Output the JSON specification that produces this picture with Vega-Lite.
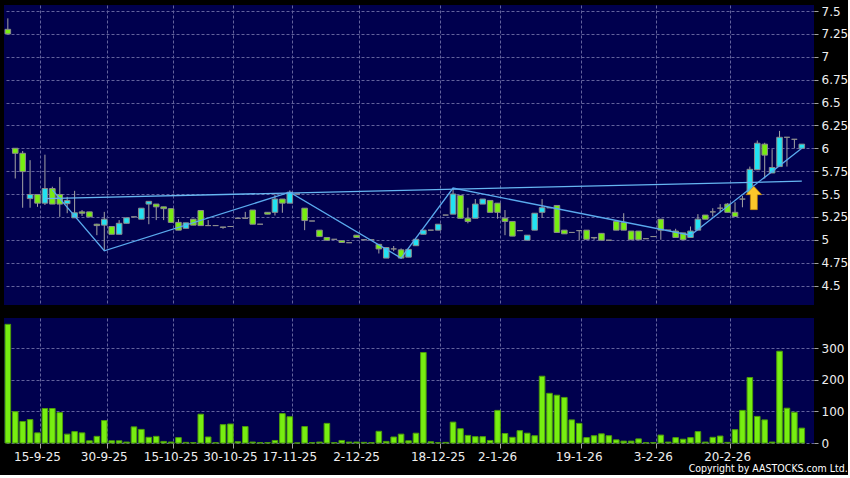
{
  "$schema": "https://vega.github.io/schema/vega-lite/v6.json",
  "background": "#000000",
  "padding": {"left": 4, "top": 5, "right": 0, "bottom": 0},
  "spacing": 13,
  "title": {"text": "Copyright by AASTOCKS.com Ltd.", "orient": "bottom", "anchor": "end", "frame": "bounds", "font": "DejaVu Sans Condensed, DejaVu Sans", "fontSize": 10.5, "fontWeight": "normal", "color": "#ffffff", "offset": 2},
  "data": {"values": [
    {"d":"9-9-25","o":7.3,"h":7.42,"l":7.25,"c":7.25,"v":375},
    {"d":"10-9-25","o":6.0,"h":6.0,"l":5.67,"c":5.945,"v":99},
    {"d":"11-9-25","o":5.945,"h":5.97,"l":5.35,"c":5.745,"v":68},
    {"d":"12-9-25","o":5.45,"h":5.87,"l":5.35,"c":5.495,"v":74},
    {"d":"15-9-25","o":5.495,"h":5.495,"l":5.36,"c":5.4,"v":32},
    {"d":"16-9-25","o":5.4,"h":5.93,"l":5.38,"c":5.56,"v":109},
    {"d":"17-9-25","o":5.56,"h":5.58,"l":5.39,"c":5.39,"v":109},
    {"d":"18-9-25","o":5.495,"h":5.685,"l":5.25,"c":5.39,"v":96},
    {"d":"19-9-25","o":5.395,"h":5.47,"l":5.29,"c":5.43,"v":28},
    {"d":"22-9-25","o":5.24,"h":5.535,"l":5.24,"c":5.295,"v":36},
    {"d":"25-9-25","o":5.305,"h":5.325,"l":5.26,"c":5.29,"v":32},
    {"d":"26-9-25","o":5.305,"h":5.305,"l":5.25,"c":5.25,"v":7},
    {"d":"29-9-25","o":5.17,"h":5.175,"l":5.05,"c":5.155,"v":21},
    {"d":"30-9-25","o":5.16,"h":5.305,"l":4.88,"c":5.225,"v":71},
    {"d":"2-10-25","o":5.145,"h":5.145,"l":5.06,"c":5.06,"v":7},
    {"d":"3-10-25","o":5.06,"h":5.215,"l":5.06,"c":5.18,"v":7},
    {"d":"6-10-25","o":5.18,"h":5.24,"l":5.18,"c":5.24,"v":3},
    {"d":"8-10-25","o":5.25,"h":5.25,"l":5.25,"c":5.25,"v":51},
    {"d":"9-10-25","o":5.225,"h":5.345,"l":5.225,"c":5.345,"v":43},
    {"d":"10-10-25","o":5.39,"h":5.42,"l":5.17,"c":5.42,"v":18},
    {"d":"13-10-25","o":5.39,"h":5.39,"l":5.215,"c":5.36,"v":21},
    {"d":"14-10-25","o":5.36,"h":5.36,"l":5.215,"c":5.34,"v":5},
    {"d":"15-10-25","o":5.34,"h":5.34,"l":5.19,"c":5.19,"v":3},
    {"d":"16-10-25","o":5.19,"h":5.225,"l":5.105,"c":5.105,"v":17},
    {"d":"17-10-25","o":5.125,"h":5.185,"l":5.125,"c":5.185,"v":2},
    {"d":"20-10-25","o":5.225,"h":5.225,"l":5.16,"c":5.16,"v":1},
    {"d":"21-10-25","o":5.32,"h":5.32,"l":5.155,"c":5.155,"v":91},
    {"d":"23-10-25","o":5.155,"h":5.215,"l":5.155,"c":5.155,"v":19},
    {"d":"24-10-25","o":5.155,"h":5.155,"l":5.155,"c":5.155,"v":1},
    {"d":"28-10-25","o":5.14,"h":5.14,"l":5.12,"c":5.135,"v":58},
    {"d":"30-10-25","o":5.145,"h":5.145,"l":5.145,"c":5.145,"v":60},
    {"d":"31-10-25","o":5.235,"h":5.235,"l":5.235,"c":5.235,"v":4},
    {"d":"3-11-25","o":5.235,"h":5.305,"l":5.235,"c":5.235,"v":52},
    {"d":"5-11-25","o":5.325,"h":5.325,"l":5.17,"c":5.17,"v":3},
    {"d":"7-11-25","o":5.17,"h":5.17,"l":5.17,"c":5.17,"v":1},
    {"d":"10-11-25","o":5.3,"h":5.3,"l":5.28,"c":5.28,"v":1},
    {"d":"12-11-25","o":5.3,"h":5.495,"l":5.265,"c":5.445,"v":8},
    {"d":"14-11-25","o":5.445,"h":5.445,"l":5.295,"c":5.4,"v":93},
    {"d":"17-11-25","o":5.4,"h":5.54,"l":5.4,"c":5.52,"v":83},
    {"d":"18-11-25","o":5.5,"h":5.5,"l":5.5,"c":5.5,"v":0},
    {"d":"19-11-25","o":5.345,"h":5.345,"l":5.105,"c":5.21,"v":52},
    {"d":"20-11-25","o":5.205,"h":5.205,"l":5.205,"c":5.205,"v":1},
    {"d":"21-11-25","o":5.105,"h":5.105,"l":5.035,"c":5.035,"v":3},
    {"d":"24-11-25","o":5.025,"h":5.025,"l":4.995,"c":4.995,"v":62},
    {"d":"26-11-25","o":5.005,"h":5.005,"l":5.005,"c":5.005,"v":1},
    {"d":"27-11-25","o":4.99,"h":4.99,"l":4.97,"c":4.97,"v":8},
    {"d":"28-11-25","o":4.968,"h":4.968,"l":4.968,"c":4.968,"v":3},
    {"d":"2-12-25","o":5.05,"h":5.05,"l":5.025,"c":5.025,"v":3},
    {"d":"3-12-25","o":5.0,"h":5.0,"l":5.0,"c":5.0,"v":2},
    {"d":"4-12-25","o":5.0,"h":5.0,"l":5.0,"c":5.0,"v":1},
    {"d":"5-12-25","o":4.95,"h":4.95,"l":4.85,"c":4.9,"v":37},
    {"d":"8-12-25","o":4.8,"h":4.92,"l":4.8,"c":4.915,"v":5},
    {"d":"9-12-25","o":4.9,"h":4.932,"l":4.875,"c":4.9,"v":19},
    {"d":"10-12-25","o":4.89,"h":4.905,"l":4.8,"c":4.8,"v":28},
    {"d":"11-12-25","o":4.81,"h":4.9,"l":4.81,"c":4.895,"v":7},
    {"d":"12-12-25","o":4.935,"h":5.005,"l":4.935,"c":5.005,"v":31},
    {"d":"15-12-25","o":5.06,"h":5.105,"l":5.06,"c":5.105,"v":286},
    {"d":"17-12-25","o":5.105,"h":5.105,"l":5.105,"c":5.105,"v":4},
    {"d":"18-12-25","o":5.105,"h":5.17,"l":5.105,"c":5.17,"v":1},
    {"d":"19-12-25","o":5.27,"h":5.27,"l":5.27,"c":5.27,"v":2},
    {"d":"22-12-25","o":5.28,"h":5.565,"l":5.28,"c":5.5,"v":66},
    {"d":"23-12-25","o":5.485,"h":5.485,"l":5.235,"c":5.235,"v":45},
    {"d":"24-12-25","o":5.235,"h":5.35,"l":5.18,"c":5.2,"v":24},
    {"d":"29-12-25","o":5.235,"h":5.445,"l":5.235,"c":5.39,"v":20},
    {"d":"30-12-25","o":5.39,"h":5.445,"l":5.39,"c":5.445,"v":20},
    {"d":"31-12-25","o":5.43,"h":5.43,"l":5.3,"c":5.3,"v":8},
    {"d":"2-1-26","o":5.4,"h":5.4,"l":5.23,"c":5.3,"v":103},
    {"d":"5-1-26","o":5.235,"h":5.325,"l":5.05,"c":5.2,"v":30},
    {"d":"6-1-26","o":5.2,"h":5.2,"l":5.04,"c":5.04,"v":18},
    {"d":"7-1-26","o":5.1,"h":5.1,"l":5.1,"c":5.1,"v":39},
    {"d":"8-1-26","o":4.995,"h":5.05,"l":4.995,"c":5.05,"v":31},
    {"d":"9-1-26","o":5.105,"h":5.29,"l":5.105,"c":5.29,"v":23},
    {"d":"12-1-26","o":5.3,"h":5.445,"l":5.24,"c":5.35,"v":211},
    {"d":"13-1-26","o":5.35,"h":5.35,"l":5.35,"c":5.35,"v":157},
    {"d":"14-1-26","o":5.375,"h":5.375,"l":5.08,"c":5.08,"v":151},
    {"d":"15-1-26","o":5.105,"h":5.105,"l":5.065,"c":5.065,"v":144},
    {"d":"16-1-26","o":5.08,"h":5.08,"l":5.08,"c":5.08,"v":73},
    {"d":"19-1-26","o":5.1,"h":5.1,"l":4.995,"c":5.1,"v":62},
    {"d":"20-1-26","o":5.105,"h":5.105,"l":5.005,"c":5.005,"v":17},
    {"d":"21-1-26","o":5.025,"h":5.025,"l":5.0,"c":5.02,"v":23},
    {"d":"22-1-26","o":5.07,"h":5.07,"l":4.995,"c":4.995,"v":29},
    {"d":"23-1-26","o":4.995,"h":4.995,"l":4.995,"c":4.995,"v":23},
    {"d":"26-1-26","o":5.2,"h":5.2,"l":5.105,"c":5.105,"v":10},
    {"d":"27-1-26","o":5.19,"h":5.29,"l":5.105,"c":5.105,"v":6},
    {"d":"28-1-26","o":5.095,"h":5.095,"l":5.0,"c":5.0,"v":6},
    {"d":"29-1-26","o":5.095,"h":5.095,"l":5.0,"c":5.0,"v":13},
    {"d":"30-1-26","o":5.012,"h":5.012,"l":5.012,"c":5.012,"v":1},
    {"d":"3-2-26","o":5.035,"h":5.035,"l":5.035,"c":5.035,"v":1},
    {"d":"4-2-26","o":5.225,"h":5.225,"l":5.0,"c":5.105,"v":25},
    {"d":"5-2-26","o":5.105,"h":5.105,"l":5.105,"c":5.105,"v":3},
    {"d":"6-2-26","o":5.095,"h":5.12,"l":5.025,"c":5.025,"v":17},
    {"d":"9-2-26","o":5.075,"h":5.075,"l":5.0,"c":5.0,"v":12},
    {"d":"10-2-26","o":5.025,"h":5.145,"l":5.025,"c":5.095,"v":17},
    {"d":"11-2-26","o":5.105,"h":5.28,"l":5.105,"c":5.225,"v":36},
    {"d":"12-2-26","o":5.27,"h":5.27,"l":5.225,"c":5.225,"v":3},
    {"d":"13-2-26","o":5.305,"h":5.345,"l":5.255,"c":5.305,"v":18},
    {"d":"16-2-26","o":5.345,"h":5.39,"l":5.3,"c":5.345,"v":22},
    {"d":"20-2-26","o":5.39,"h":5.4,"l":5.3,"c":5.3,"v":2},
    {"d":"23-2-26","o":5.3,"h":5.41,"l":5.255,"c":5.255,"v":42},
    {"d":"24-2-26","o":5.445,"h":5.48,"l":5.355,"c":5.445,"v":103},
    {"d":"25-2-26","o":5.515,"h":5.8,"l":5.515,"c":5.77,"v":207},
    {"d":"26-2-26","o":5.765,"h":6.085,"l":5.765,"c":6.055,"v":84},
    {"d":"27-2-26","o":6.045,"h":6.06,"l":5.67,"c":5.925,"v":73},
    {"d":"2-3-26","o":5.73,"h":5.99,"l":5.73,"c":5.79,"v":3},
    {"d":"3-3-26","o":5.8,"h":6.19,"l":5.8,"c":6.12,"v":290},
    {"d":"4-3-26","o":6.12,"h":6.12,"l":5.8,"c":6.12,"v":110},
    {"d":"5-3-26","o":6.098,"h":6.098,"l":6.0,"c":6.098,"v":97},
    {"d":"6-3-26","o":6.0,"h":6.045,"l":6.0,"c":6.045,"v":47}
  ]},
  "datasets": {
    "trend": [{"d":"16-9-25","p":5.45},{"d":"6-3-26","p":5.64}],
    "zigzag": [
      {"d":"17-9-25","p":5.545},{"d":"30-9-25","p":4.88},{"d":"17-11-25","p":5.52},
      {"d":"10-12-25","p":4.8},{"d":"22-12-25","p":5.565},{"d":"10-2-26","p":5.05},{"d":"6-3-26","p":6.0}
    ],
    "signal": [{"d":"25-2-26","p":5.457}]
  },
  "vconcat": [
    {
      "width": 810,
      "height": 300,
      "encoding": {
        "x": {"field": "d", "type": "ordinal", "sort": null,
          "scale": {"paddingInner": 0.25, "paddingOuter": 0.705, "align": 0.1},
          "axis": {"labels": false, "ticks": false, "domain": false, "grid": true, "bandPosition": 1, "title": null,
            "values": ["15-9-25","30-9-25","15-10-25","30-10-25","17-11-25","2-12-25","18-12-25","2-1-26","19-1-26","3-2-26","20-2-26"]}}
      },
      "layer": [
        {
          "mark": {"type": "rule", "color": "#a4a4a4", "strokeWidth": 1},
          "encoding": {
            "y": {"field": "l", "type": "quantitative",
              "scale": {"domain": [4.287, 7.566], "zero": false, "nice": false},
              "axis": {"orient": "right", "title": null, "format": ".3~g", "grid": true, "domain": false, "tickSize": 4, "labelPadding": 3, "labelOverlap": false, "labelFlush": false, "tickCount": 30,
                "values": [4.5, 4.75, 5, 5.25, 5.5, 5.75, 6, 6.25, 6.5, 6.75, 7, 7.25, 7.5]}},
            "y2": {"field": "h"}
          }
        },
        {
          "mark": {"type": "bar", "stroke": "#8c8c8c", "strokeWidth": 1, "opacity": 1},
          "encoding": {
            "y": {"field": "o", "type": "quantitative"},
            "y2": {"field": "c"},
            "fill": {"condition": [{"test": "datum.c > datum.o", "value": "#22e2f2"}, {"test": "datum.c < datum.o", "value": "#77ee11"}], "value": "#a4a4a4"}
          }
        },
        {
          "data": {"name": "trend"},
          "mark": {"type": "line", "color": "#66b6f2", "strokeWidth": 1.3},
          "encoding": {"y": {"field": "p", "type": "quantitative"}, "order": {"value": null}}
        },
        {
          "data": {"name": "zigzag"},
          "mark": {"type": "line", "color": "#5aaaee", "strokeWidth": 1.3},
          "encoding": {"y": {"field": "p", "type": "quantitative"}, "order": {"value": null}}
        },
        {
          "data": {"name": "signal"},
          "mark": {"type": "point", "shape": "M0,-1L0.68,-0.28L0.3,-0.28L0.3,1L-0.3,1L-0.3,-0.28L-0.68,-0.28Z", "filled": true, "size": 545, "fill": "#fcc72a", "stroke": "#c98a00", "strokeWidth": 0.6, "opacity": 1, "xOffset": 4},
          "encoding": {"y": {"field": "p", "type": "quantitative"}}
        }
      ]
    },
    {
      "width": 810,
      "height": 125,
      "mark": {"type": "bar", "fill": "#77ee11", "stroke": "#4c9c0a", "strokeWidth": 1, "opacity": 1},
      "encoding": {
        "x": {"field": "d", "type": "ordinal", "sort": null,
          "scale": {"paddingInner": 0.25, "paddingOuter": 0.705, "align": 0.1},
          "axis": {"title": null, "labelAngle": 0, "grid": true, "domain": false, "tickSize": 5, "labelPadding": 3, "bandPosition": 1, "labelOverlap": false, "labelFlush": false,
            "values": ["15-9-25","30-9-25","15-10-25","30-10-25","17-11-25","2-12-25","18-12-25","2-1-26","19-1-26","3-2-26","20-2-26"]}},
        "y": {"field": "v", "type": "quantitative",
          "scale": {"domain": [0, 395], "nice": false},
          "axis": {"orient": "right", "title": null, "format": "d", "grid": true, "domain": false, "tickSize": 4, "labelPadding": 3, "labelOverlap": false, "labelFlush": false, "tickCount": 10, "values": [0, 100, 200, 300]}}
      }
    }
  ],
  "config": {
    "view": {"fill": "#00004e", "stroke": null},
    "axis": {"gridColor": "#62629c", "gridDash": [3, 2], "gridWidth": 1, "gridOpacity": 1, "tickColor": "#a0a0a0", "labelColor": "#eeeeee", "labelFont": "DejaVu Sans", "labelFontSize": 12}
  }
}
